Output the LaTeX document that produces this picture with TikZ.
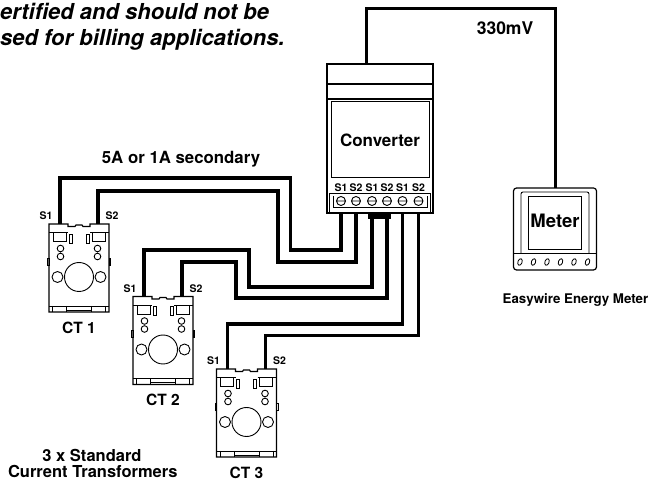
\documentclass[tikz,border=0pt]{standalone}
\usepackage{fontspec}
\setmainfont{TeX Gyre Heros}
\usetikzlibrary{positioning,calc}

\tikzset{
  wire/.style={line width=3.2pt},
  part/.style={draw, line width=1.2pt},
  fine/.style={draw, line width=0.9pt},
  note/.style={inner sep=0pt, font=\bfseries\itshape\fontsize{22}{26}\selectfont},
  lbl/.style={inner sep=0pt, font=\bfseries\fontsize{17}{20}\selectfont},
  small/.style={inner sep=0pt, font=\bfseries\fontsize{10.5}{12}\selectfont},
  ctlbl/.style={inner sep=0pt, font=\bfseries\fontsize{15.5}{18}\selectfont},
  pics/ctunit/.style={code={
    % body
    \draw[part] (0,88) -- (0,0) -- (19,0) -- (19,2.5) -- (26,2.5) -- (27,1) -- (33,1) -- (34,2.5) -- (41,2.5) -- (41,0) -- (60,0) -- (60,88) -- cycle;
    % clamps and slots
    \draw[fine] (0,8.5) -- (19,8.5) (41,8.5) -- (60,8.5);
    \draw[fine] (4,8.5) rectangle (17,17.5) (43,8.5) rectangle (56,17.5);
    \draw[fine] (20,10) rectangle (23,19) (37,10) rectangle (40,19);
    \draw[fine] (-1.5,34) rectangle (0,41) (60,34) rectangle (61.5,41);
    % holes
    \foreach \hx in {11.5,48.5}
      \draw[fine] (\hx,24.5) circle (3.3) (\hx,32.5) circle (3.3);
    \draw[fine] (30,53) circle (14.5) (8.5,53) circle (5.5) (51.5,53) circle (5.5);
    % base
    \draw[fine] (0,82) -- (60,82) (17.5,86) -- (42.5,86);
    \foreach \bx in {3.5,17.5,42.5,56.5}
      \draw[fine] (\bx,82) -- (\bx,88);
    \node[small] (-l1) at (-3,-8) {S1};
    \node[small] (-l2) at (63,-8) {S2};
    \node[ctlbl, anchor=base] (-lbl) at (30,109.5) {#1};
    \coordinate (-s1) at (11,0);
    \coordinate (-s2) at (49,0);
  }}
}

\begin{document}
\begin{tikzpicture}[x=1pt, y=-1pt]
\useasboundingbox (0,0) rectangle (649,481);

% Disclaimer
\node[note, anchor=base west] (note1) at (0,19.5) {ertified and should not be};
\node[note, anchor=base west] (note2) at (0,45.5) {sed for billing applications.};

% Converter
\draw[part] (327,64) rectangle (433,213);
\draw[part] (327,84) -- (433,84) (327,99) -- (433,99);
\draw[fine] (331,101) rectangle (429,177);
\node[lbl] (convtxt) at (380,140) {Converter};
\draw[fine] (329.5,193.5) rectangle (430.5,212);
\draw[fine] (333,196) -- (333,207) -- (427,207) -- (427,196);
\foreach \tx/\tn/\tl in {341/1/S1, 356/2/S2, 372/3/S1, 387/4/S2, 402.5/5/S1, 418.5/6/S2} {
  \node[small] (lab\tn) at (\tx,188) {\tl};
  \draw[fine] (\tx,201) circle (4.5) (\tx-4.5,201) -- (\tx+4.5,201);
  \coordinate (t\tn) at (\tx,213);
}
\fill (368,213) rectangle (391,219);
\coordinate (convtop) at (366.7,64);

% Meter
\draw[part, rounded corners=3] (513.5,188) rectangle (596.5,270);
\draw[part] (513.5,253.5) -- (596.5,253.5);
\draw[fine, rounded corners=2] (521,253.5) |- (589,192) -- (589,253.5);
\draw[fine] (528.5,196) rectangle (581.5,249.5);
\node[lbl, font=\bfseries\fontsize{18.5}{20}\selectfont] (metertxt) at (555,221) {Meter};
\foreach \kx in {520,533.5,547,560.5,574,587.5}
  \draw[line width=0.8pt] (\kx,262) circle [x radius=2.1, y radius=3.4, rotate=-20];
\coordinate (metertop) at (555.7,188);
\node[lbl, font=\bfseries\fontsize{13.3}{16}\selectfont] (emtxt) at (575.5,300.5) {Easywire Energy Meter};

% Current transformers
\pic (ct1) at (49,224) {ctunit=CT 1};
\pic (ct2) at (133,296.5) {ctunit=CT 2};
\pic (ct3) at (216.5,369) {ctunit=CT 3};
\node[lbl, font=\bfseries\fontsize{16.5}{18}\selectfont, anchor=base] (ctnote1) at (92,461.5) {3 x Standard};
\node[lbl, font=\bfseries\fontsize{16.5}{18}\selectfont, anchor=base] (ctnote2) at (92.8,478) {Current Transformers};

% Wiring
\draw[wire] (convtop) |- (555.7,8.3) -- (metertop);
\node[lbl, font=\bfseries\fontsize{17.5}{20}\selectfont] (mv) at (505,28.3) {330mV};
\node[lbl, font=\bfseries\fontsize{16.8}{20}\selectfont] (sec) at (181,159) {5A or 1A secondary};
\draw[wire] (ct1-s1) |- (290.7,178) -- (290.7,250) -| (t1);
\draw[wire] (ct1-s2) |- (278,191) -- (278,262) -| (t2);
\draw[wire] (ct2-s1) |- (249,250) -- (249,287) -| (t3);
\draw[wire] (ct2-s2) |- (236,262) -- (236,298) -| (t4);
\draw[wire] (ct3-s1) |- (402.5,324) -- (t5);
\draw[wire] (ct3-s2) |- (418.5,335.5) -- (t6);
\end{tikzpicture}
\end{document}
